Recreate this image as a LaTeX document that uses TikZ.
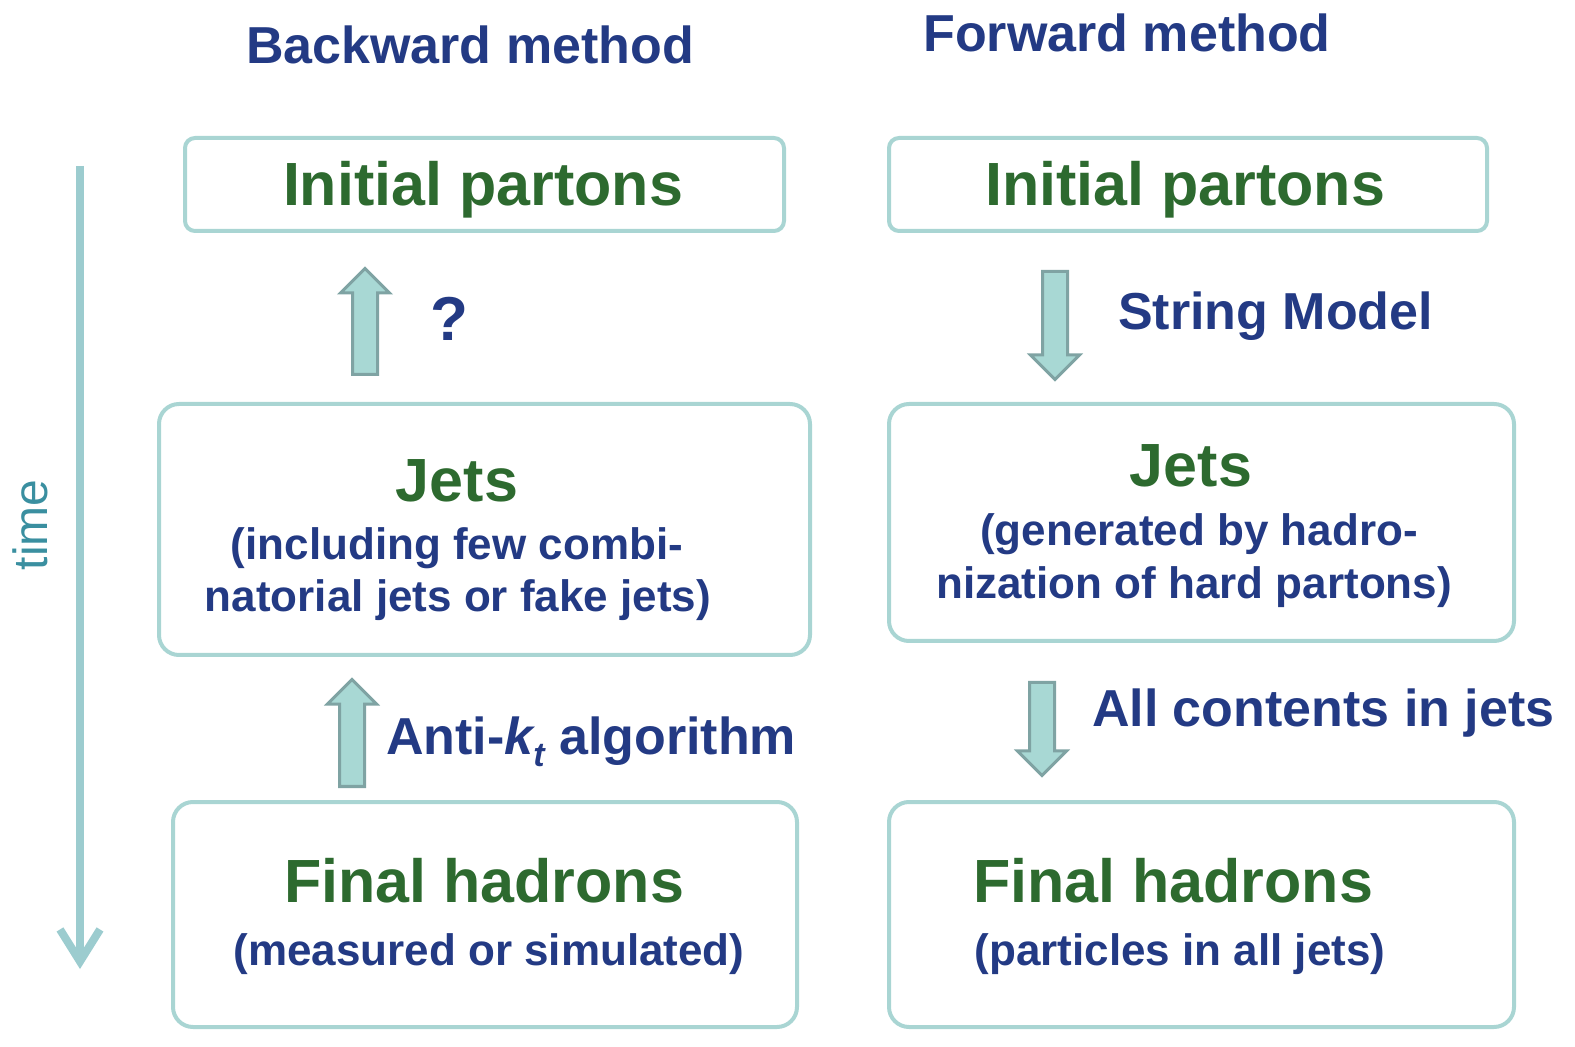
\documentclass[tikz,border=0pt]{standalone}
\usepackage{fontspec}
\setmainfont{Liberation Sans}
\usetikzlibrary{arrows.meta,shapes.arrows,positioning}

\definecolor{navy}{HTML}{233A84}
\definecolor{leaf}{HTML}{2D6A2F}
\definecolor{frame}{HTML}{A9D5D3}
\definecolor{arrfill}{HTML}{A8D8D4}
\definecolor{arredge}{HTML}{7FA3A3}
\definecolor{timeline}{HTML}{9CCCCF}
\definecolor{timetext}{HTML}{3A8FA0}

\tikzset{
  box/.style={draw=frame,line width=2pt,rounded corners=10pt,inner sep=0pt},
  head/.style={text=leaf,font=\fontsize{30.5}{34}\selectfont\bfseries},
  sub/.style={text=navy,font=\fontsize{22}{26}\selectfont\bfseries},
  title/.style={text=navy,font=\fontsize{26}{30}\selectfont\bfseries},
  blockarr/.style={single arrow,draw=arredge,fill=arrfill,line width=1.5pt,
    minimum width=23pt,single arrow head extend=6pt,single arrow tip angle=90,
    inner xsep=0pt,inner ysep=5.5pt,anchor=tail}
}

\begin{document}
\begin{tikzpicture}[x=0.5pt,y=-0.5pt,>={Straight Barb[length=16pt,width=20pt]}]
  \useasboundingbox (0,0) rectangle (1575,1047);

  % titles
  \node[title] (back) at (470,45) {Backward method};
  \node[title] (fwd) at (1127,33) {Forward method};

  % time axis
  \coordinate (t0) at (80,166);
  \coordinate (t1) at (80,969);
  \draw[->,draw=timeline,line width=4pt] (t0) -- (t1);
  \node[rotate=90,text=timetext,font=\fontsize{24}{28}\selectfont] (time) at (30,525) {time};

  % backward method
  \node[box,rounded corners=5pt,minimum width=299.5pt,minimum height=46.5pt] (ipL) at (484.5,184.5) {};
  \node[head] (ipLt) at (483,190) {Initial partons};

  \node[box,minimum width=325.5pt,minimum height=125.5pt] (jetsL) at (484.5,529.5) {};
  \node[head] (jetsLt) at (457,481) {Jets};
  \node[sub] (jetsLa) at (457,548) {(including few combi-};
  \node[sub] (jetsLb) at (458,600) {natorial jets or fake jets)};

  \node[box,minimum width=312pt,minimum height=112.5pt] (finL) at (485,914.5) {};
  \node[head] (finLt) at (484,881) {Final hadrons};
  \node[sub] (finLa) at (489,954) {(measured or simulated)};

  \node[blockarr,rotate=90,minimum height=53pt] (upL1) at (365,376) {};
  \node[title,font=\fontsize{31}{34}\selectfont\bfseries] (ask) at (449,319) {?};

  \node[blockarr,rotate=90,minimum height=53.5pt] (upL2) at (352,788) {};
  \node[title,anchor=west] (antikt) at (379,742)
    {Anti-{\itshape k}\raisebox{-6pt}{\fontsize{17}{17}\selectfont\itshape t} algorithm};

  % forward method
  \node[box,rounded corners=5pt,minimum width=299pt,minimum height=46.5pt] (ipR) at (1188,184.5) {};
  \node[head] (ipRt) at (1185,190) {Initial partons};

  \node[box,minimum width=312.5pt,minimum height=118.5pt] (jetsR) at (1201.5,522.5) {};
  \node[head] (jetsRt) at (1191,466) {Jets};
  \node[sub] (jetsRa) at (1199,534) {(generated by hadro-};
  \node[sub] (jetsRb) at (1194,587) {nization of hard partons)};

  \node[box,minimum width=312.5pt,minimum height=112.5pt] (finR) at (1201.5,914.5) {};
  \node[head] (finRt) at (1173,881) {Final hadrons};
  \node[sub] (finRa) at (1180,954) {(particles in all jets)};

  \node[blockarr,rotate=-90,minimum height=54pt] (dnR1) at (1055,270) {};
  \node[title,anchor=west] (string) at (1111,316) {String Model};

  \node[blockarr,rotate=-90,minimum height=46.5pt] (dnR2) at (1042,681) {};
  \node[title,anchor=west] (contents) at (1085,713) {All contents in jets};
\end{tikzpicture}
\end{document}
